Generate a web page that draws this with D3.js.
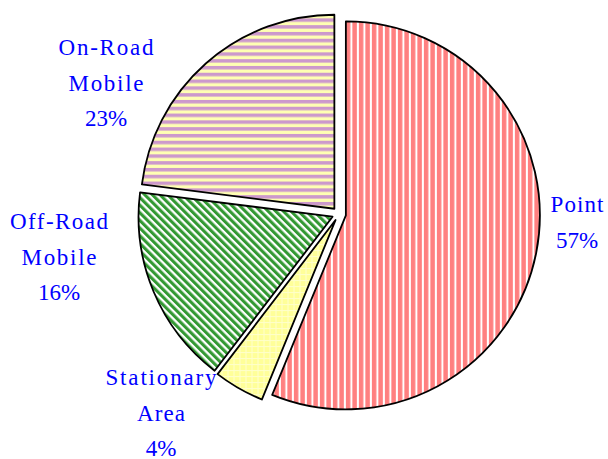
<!DOCTYPE html>
<html>
<head>
<meta charset="utf-8">
<script src="https://cdnjs.cloudflare.com/ajax/libs/d3/7.8.5/d3.min.js"></script>
<style>
  body { margin: 0; background: #fff; }
  svg text { font-family: "Liberation Serif", serif; font-size: 23px; fill: #0000ff; }
</style>
</head>
<body>
<div id="chart"></div>
<script>

var categories = ['Point', 'Stationary Area', 'Off-Road Mobile', 'On-Road Mobile'];
// slice sizes
var values = [56.2, 4.2, 16.6, 23.0];
var labelLines = [
  ['Point', '57%'],
  ['Stationary', 'Area', '4%'],
  ['Off-Road', 'Mobile', '16%'],
  ['On-Road', 'Mobile', '23%']
];

var width = 608;
var height = 459;
var cx = 339, cy = 214;
var radius = 194;
var explode = 7;

// label centres and word widths, set by hand to follow the picture
var labelPos = [[577, 204], [161, 377], [59, 221], [106, 47]];
var lineWidths = [[53, null], [111, 48, null], [98, 75, null], [95, 75, null]];
var lineGap = 35.5;

var svg = d3.select('#chart')
  .append('svg')
  .attr('width', width)
  .attr('height', height);

var defs = svg.append('defs');

// Point: red vertical stripes
var p0 = defs.append('pattern').attr('id', 'pat0')
  .attr('patternUnits', 'userSpaceOnUse').attr('width', 6.5).attr('height', 7);
p0.append('rect').attr('width', 6.5).attr('height', 7).attr('fill', '#fff');
p0.append('rect').attr('width', 4.5).attr('height', 7).attr('fill', '#ff8080');

// Stationary: pale yellow with faint grid
var p1 = defs.append('pattern').attr('id', 'pat1')
  .attr('patternUnits', 'userSpaceOnUse').attr('width', 6).attr('height', 6);
p1.append('rect').attr('width', 6).attr('height', 6).attr('fill', '#ffff99');
p1.append('rect').attr('width', 6).attr('height', 1).attr('fill', '#ffffcc');
p1.append('rect').attr('width', 1).attr('height', 6).attr('fill', '#ffffcc');

// Off-Road: green diagonal stripes
var p2 = defs.append('pattern').attr('id', 'pat2')
  .attr('patternUnits', 'userSpaceOnUse').attr('width', 5.4).attr('height', 5.4)
  .attr('patternTransform', 'rotate(-45)');
p2.append('rect').attr('width', 5.4).attr('height', 5.4).attr('fill', '#fff');
p2.append('rect').attr('width', 3.1).attr('height', 5.4).attr('fill', '#339933');

// On-Road: purple / yellow horizontal stripes
var p3 = defs.append('pattern').attr('id', 'pat3')
  .attr('patternUnits', 'userSpaceOnUse').attr('width', 7).attr('height', 6.8);
p3.append('rect').attr('width', 7).attr('height', 6.8).attr('fill', '#ffffb3');
p3.append('rect').attr('width', 7).attr('height', 3.5).attr('fill', '#cc99cc');

var pie = d3.pie().sort(null).value(function(d) { return d; });
var arc = d3.arc().innerRadius(0).outerRadius(radius);

var arcs = pie(values);

var g = svg.append('g')
  .attr('transform', 'translate(' + cx + ',' + cy + ')');

g.selectAll('path')
  .data(arcs)
  .enter()
  .append('path')
  .attr('d', arc)
  .attr('transform', function(d) {
    var a = (d.startAngle + d.endAngle) / 2;
    return 'translate(' + (Math.sin(a) * explode) + ',' + (-Math.cos(a) * explode) + ')';
  })
  .attr('fill', function(d, i) { return 'url(#pat' + i + ')'; })
  .attr('stroke', '#000')
  .attr('stroke-width', 1.8)
  .attr('stroke-linejoin', 'round');

labelLines.forEach(function(lines, i) {
  var t = svg.append('text')
    .attr('text-anchor', 'middle');
  lines.forEach(function(line, j) {
    var w = lineWidths[i][j];
    var span = t.append('tspan')
      .attr('x', labelPos[i][0])
      .attr('y', labelPos[i][1] + j * lineGap)
      .attr('dy', '0.35em')
      .text(line);
    if (w) {
      // widen the letter spacing to the width seen in the picture
      span.attr('textLength', w).attr('lengthAdjust', 'spacing');
    }
  });
});

</script>
</body>
</html>
